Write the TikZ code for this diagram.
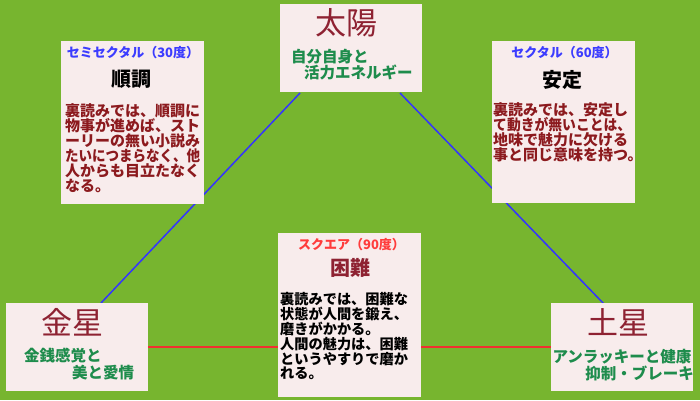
\documentclass[tikz,border=0pt]{standalone}
\usepackage{graphicx}
\usepackage{fontspec}
\newfontfamily\jp{Noto Sans CJK JP}
\definecolor{bggreen}{HTML}{77B52F}
\definecolor{boxfill}{HTML}{F8ECEC}
\definecolor{titlered}{HTML}{8E2232}
\definecolor{subgreen}{HTML}{1E8C4C}
\definecolor{bodyred}{HTML}{8C1A1E}
\definecolor{headblue}{HTML}{3C3CFF}
\definecolor{headred}{HTML}{FF3C3C}
\definecolor{lineblue}{HTML}{3434FF}
\definecolor{linered}{HTML}{F03030}
\newcommand{\squeeze}[2]{\scalebox{#1}[1]{#2}}
\tikzset{
  box/.style={draw=none, fill=boxfill, inner sep=0pt},
  planet/.style={inner sep=0pt, text=titlered, font=\jp\fontsize{31}{31}\selectfont},
  sub/.style={inner sep=0pt, text=subgreen, font=\jp\bfseries\fontsize{15.5}{15.5}\selectfont},
  head/.style={inner sep=0pt, font=\jp\bfseries\fontsize{13}{13}\selectfont},
  aspect/.style={inner sep=0pt, font=\jp\bfseries\fontsize{20}{20}\selectfont},
  body/.style={inner sep=0pt, anchor=north west, align=left, text=bodyred, font=\jp\bfseries\fontsize{15}{15}\selectfont},
  blueline/.style={draw=lineblue, line width=1.5pt},
  redline/.style={draw=linered, line width=1.5pt},
}
\begin{document}
\begin{tikzpicture}[x=1pt,y=-1pt]
\fill[bggreen] (0,0) rectangle (700,400);
\useasboundingbox (0,0) rectangle (700,400);
% connector end points
\coordinate (sunL) at (300,93);
\coordinate (sunR) at (400,93);
\coordinate (venT) at (101,303);
\coordinate (satT) at (604,304);
\draw[blueline] (sunL) -- (venT);
\draw[blueline] (sunR) -- (satT);
% boxes
\node[box, minimum width=142pt, minimum height=88pt] (sun) at (351,48) {};
\node[box, minimum width=143pt, minimum height=163pt] (semi) at (132.5,122.5) {};
\node[box, minimum width=143pt, minimum height=162pt] (sext) at (563.5,122) {};
\node[box, minimum width=142pt, minimum height=88pt] (venus) at (77,347) {};
\node[box, minimum width=142pt, minimum height=88pt] (saturn) at (622,347) {};
\draw[redline] (venus.east) -- (saturn.west);
\node[box, minimum width=143pt, minimum height=164pt] (square) at (349.5,315) {};
% sun
\node[planet] (suntitle) at (346.5,23) {太陽};
\node[sub, anchor=west] (sunsub1) at (291,57) {自分自身と};
\node[sub, anchor=west] (sunsub2) at (304,72) {活力エネルギー};
% venus
\node[planet] (ventitle) at (72,322) {金星};
\node[sub, anchor=west] (vensub1) at (24,356) {金銭感覚と};
\node[sub, anchor=west] (vensub2) at (72,373) {美と愛情};
% saturn
\node[planet] (sattitle) at (618,322) {土星};
\node[sub] (satsub1) at (622,357) {アンラッキーと健康};
\node[sub, anchor=east] (satsub2) at (694,373) {抑制・ブレーキ};
% semi-sextile
\node[head, text=headblue] (semihead) at (133,53) {セミセクタル（30度）};
\node[aspect] (semititle) at (131,79) {順調};
\node[body] (semibody) at (65,103.5) {裏読みでは、順調に\\物事が進めば、スト\\ーリーの無い小説み\\\squeeze{0.9}{たいにつまらなく、他}\\人からも目立たなく\\なる。};
% sextile
\node[head, text=headblue] (sexthead) at (564.5,53) {セクタル（60度）};
\node[aspect] (sexttitle) at (562,80) {安定};
\node[body] (sextbody) at (493,102.5) {裏読みでは、安定し\\\squeeze{0.92}{て動きが無いことは、}\\地味で魅力に欠ける\\事と同じ意味を持つ。};
% square
\node[head, text=headred] (sqhead) at (351.5,245) {スクエア（90度）};
\node[aspect, text=titlered] (sqtitle) at (350,268) {困難};
\node[body, text=black, font=\jp\bfseries\fontsize{14.2}{14.8}\selectfont] (sqbody) at (280,292.5) {裏読みでは、困難な\\状態が人間を鍛え、\\磨きがかかる。\\人間の魅力は、困難\\というやすりで磨か\\れる。};
\end{tikzpicture}
\end{document}
